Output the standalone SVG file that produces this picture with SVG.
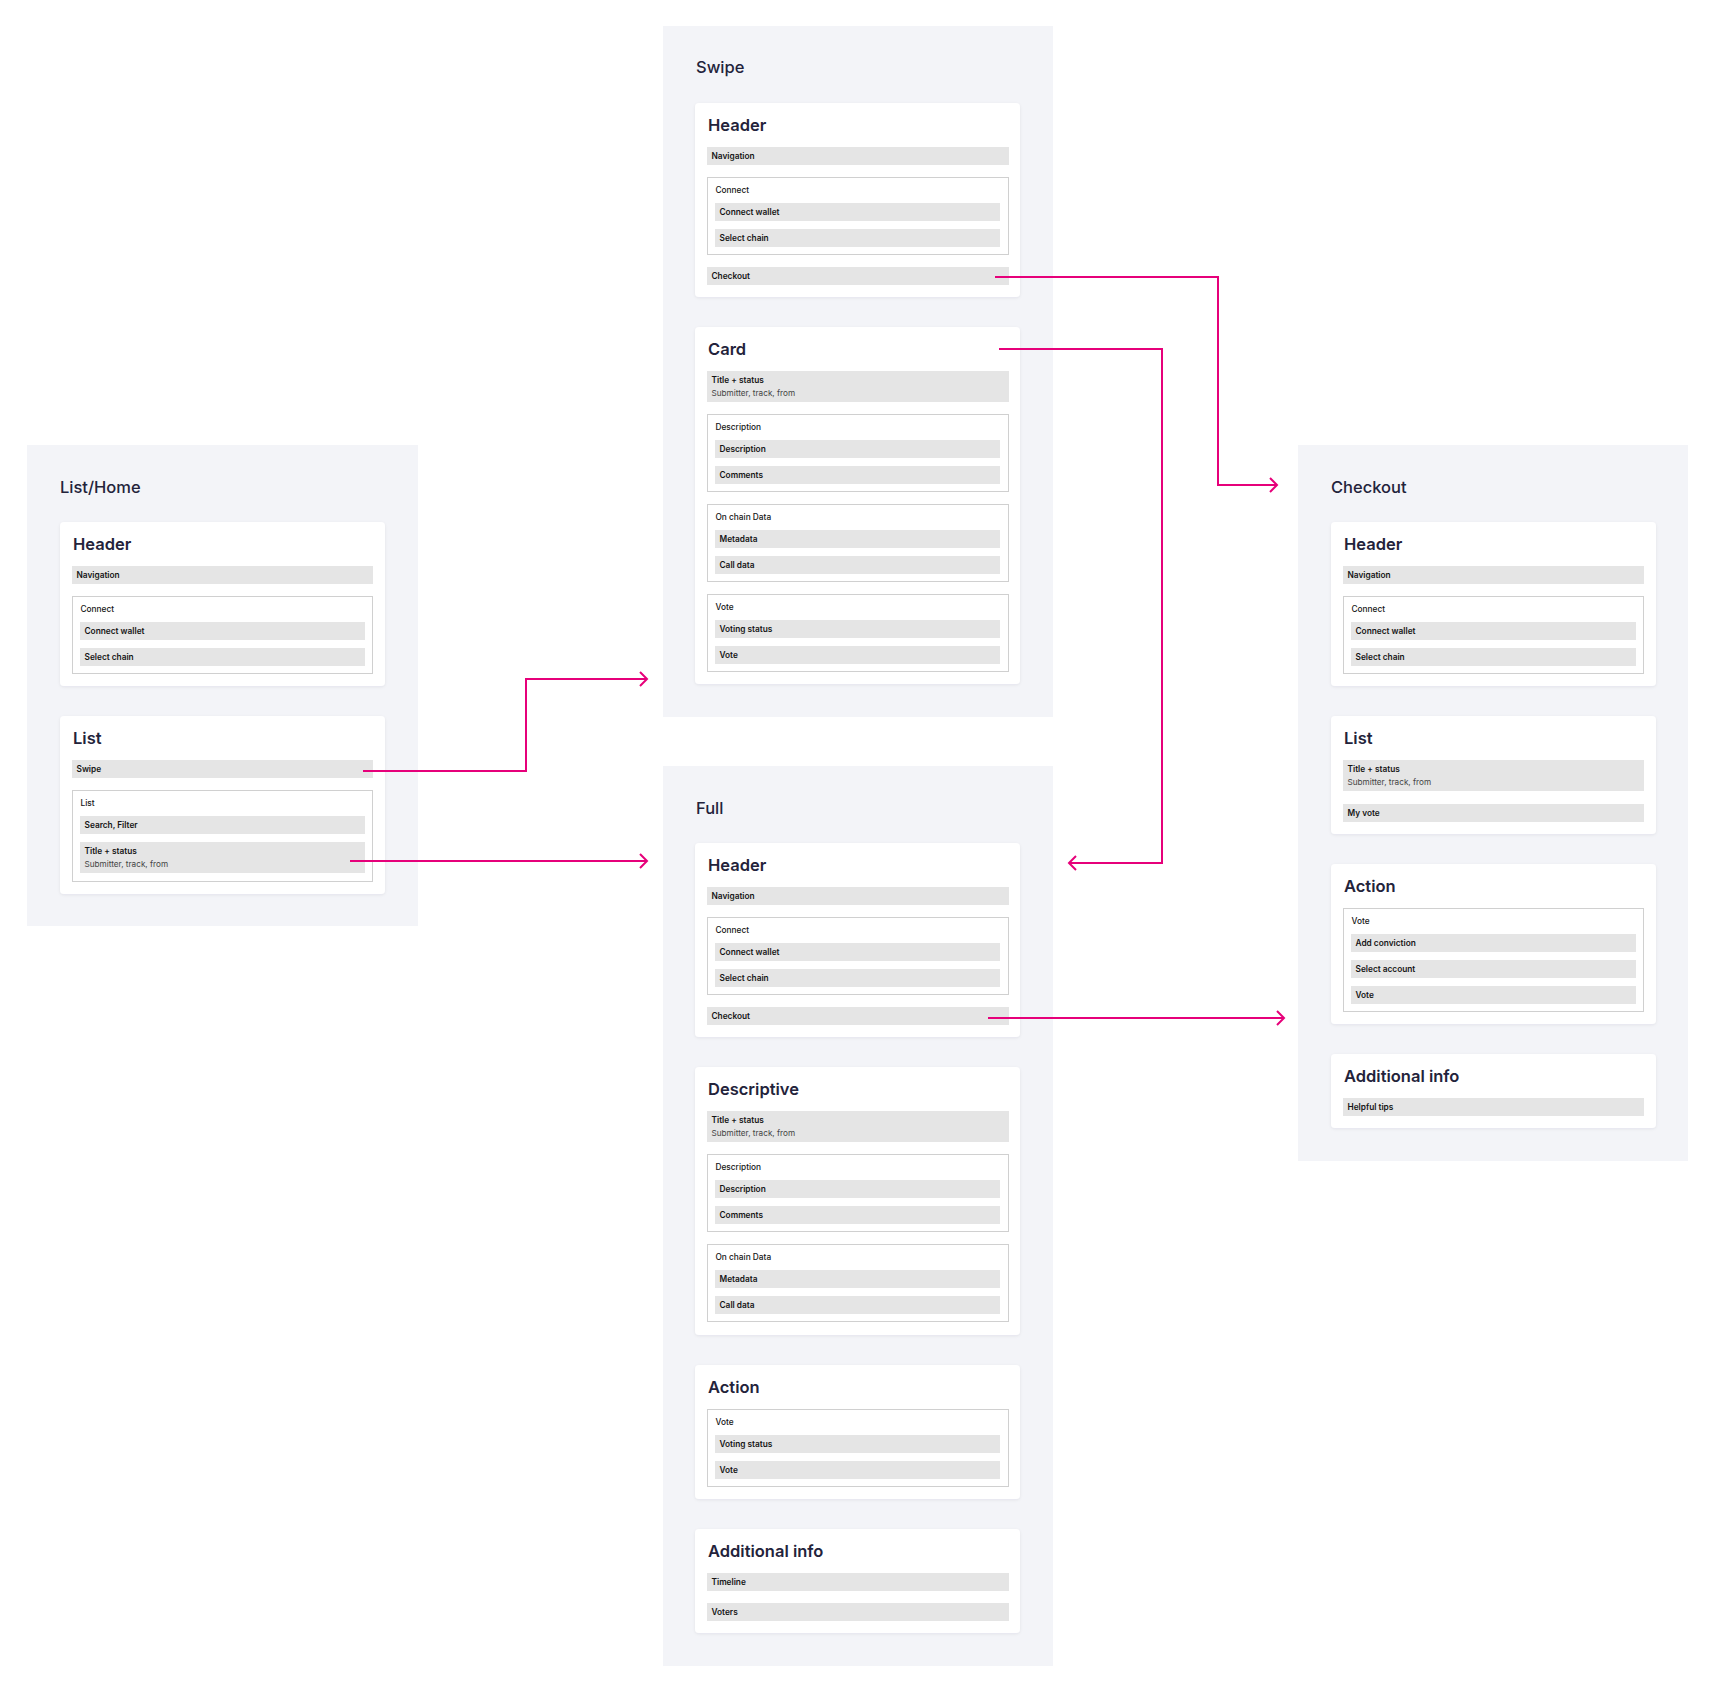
<svg xmlns="http://www.w3.org/2000/svg" width="1722" height="1691" viewBox="0 0 1722 1691">
<defs>
<filter id="sh" x="-5%" y="-5%" width="110%" height="115%">
<feDropShadow dx="0" dy="1" stdDeviation="1.5" flood-color="#1a1a40" flood-opacity="0.07"/>
</filter>
<marker id="arr" markerUnits="userSpaceOnUse" markerWidth="12" markerHeight="18" viewBox="0 0 12 18" refX="10" refY="9" orient="auto">
<path d="M3,2 L10,9 L3,16" fill="none" stroke="#E6007A" stroke-width="2"/>
</marker>
<style>
.panel{fill:#F3F4F8}
.card{fill:#FFFFFF;filter:url(#sh)}
.bar{fill:#E5E5E5}
.box{fill:none;stroke:#A0A0A0;stroke-width:1;stroke-dasharray:1 1}
.pt{font-family:Inter,"Liberation Sans",sans-serif;font-weight:500;font-size:16.5px;fill:#23233B}
.ct{font-family:Inter,"Liberation Sans",sans-serif;font-weight:600;font-size:16.5px;fill:#23233B}
.bt{font-family:Inter,"Liberation Sans",sans-serif;font-weight:600;font-size:8.3px;fill:#151515}
.bl{font-family:Inter,"Liberation Sans",sans-serif;font-weight:500;font-size:8.3px;fill:#151515}
.st{font-family:Inter,"Liberation Sans",sans-serif;font-weight:400;font-size:8.2px;fill:#444444}
.conn{fill:none;stroke:#E6007A;stroke-width:2;marker-end:url(#arr)}
</style>
</defs>
<rect width="1722" height="1691" fill="#FFFFFF"/>

<!-- Panels -->
<g id="panel-listhome">
<rect class="panel" x="27" y="445" width="391" height="481"/>
<text class="pt" x="60" y="493">List/Home</text>
</g>
<g id="panel-swipe">
<rect class="panel" x="663" y="26" width="390" height="691"/>
<text class="pt" x="696" y="73">Swipe</text>
</g>
<g id="panel-full">
<rect class="panel" x="663" y="766" width="390" height="900"/>
<text class="pt" x="696" y="814">Full</text>
</g>
<g id="panel-checkout">
<rect class="panel" x="1298" y="445" width="390" height="716"/>
<text class="pt" x="1331" y="493">Checkout</text>
</g>

<!-- List/Home cards -->
<g id="lh-header" transform="translate(60,522)">
<rect class="card" width="325" height="164" rx="4"/>
<text class="ct" x="13" y="28">Header</text>
<rect class="bar" x="12" y="44" width="301" height="18"/><text class="bt" x="16.5" y="56">Navigation</text>
<rect class="box" x="12.5" y="74.5" width="300" height="77"/><text class="bl" x="20.5" y="90">Connect</text>
<rect class="bar" x="20" y="100" width="285" height="18"/><text class="bt" x="24.5" y="112">Connect wallet</text>
<rect class="bar" x="20" y="126" width="285" height="18"/><text class="bt" x="24.5" y="138">Select chain</text>
</g>
<g id="lh-list" transform="translate(60,716)">
<rect class="card" width="325" height="178" rx="4"/>
<text class="ct" x="13" y="28">List</text>
<rect class="bar" x="12" y="44" width="301" height="18"/><text class="bt" x="16.5" y="56">Swipe</text>
<rect class="box" x="12.5" y="74.5" width="300" height="91"/><text class="bl" x="20.5" y="90">List</text>
<rect class="bar" x="20" y="100" width="285" height="18"/><text class="bt" x="24.5" y="112">Search, Filter</text>
<rect class="bar" x="20" y="126" width="285" height="31"/><text class="bt" x="24.5" y="137.5">Title + status</text><text class="st" x="24.5" y="150.5">Submitter, track, from</text>
</g>

<!-- Swipe cards -->
<g id="sw-header" transform="translate(695,103)">
<rect class="card" width="325" height="194" rx="4"/>
<text class="ct" x="13" y="28">Header</text>
<rect class="bar" x="12" y="44" width="302" height="18"/><text class="bt" x="16.5" y="56">Navigation</text>
<rect class="box" x="12.5" y="74.5" width="301" height="77"/><text class="bl" x="20.5" y="90">Connect</text>
<rect class="bar" x="20" y="100" width="285" height="18"/><text class="bt" x="24.5" y="112">Connect wallet</text>
<rect class="bar" x="20" y="126" width="285" height="18"/><text class="bt" x="24.5" y="138">Select chain</text>
<rect class="bar" x="12" y="164" width="302" height="18"/><text class="bt" x="16.5" y="176">Checkout</text>
</g>
<g id="sw-card" transform="translate(695,327)">
<rect class="card" width="325" height="357" rx="4"/>
<text class="ct" x="13" y="28">Card</text>
<rect class="bar" x="12" y="44" width="302" height="31"/><text class="bt" x="16.5" y="55.5">Title + status</text><text class="st" x="16.5" y="68.5">Submitter, track, from</text>
<rect class="box" x="12.5" y="87.5" width="301" height="77"/><text class="bl" x="20.5" y="103">Description</text>
<rect class="bar" x="20" y="113" width="285" height="18"/><text class="bt" x="24.5" y="125">Description</text>
<rect class="bar" x="20" y="139" width="285" height="18"/><text class="bt" x="24.5" y="151">Comments</text>
<rect class="box" x="12.5" y="177.5" width="301" height="77"/><text class="bl" x="20.5" y="193">On chain Data</text>
<rect class="bar" x="20" y="203" width="285" height="18"/><text class="bt" x="24.5" y="215">Metadata</text>
<rect class="bar" x="20" y="229" width="285" height="18"/><text class="bt" x="24.5" y="241">Call data</text>
<rect class="box" x="12.5" y="267.5" width="301" height="77"/><text class="bl" x="20.5" y="283">Vote</text>
<rect class="bar" x="20" y="293" width="285" height="18"/><text class="bt" x="24.5" y="305">Voting status</text>
<rect class="bar" x="20" y="319" width="285" height="18"/><text class="bt" x="24.5" y="331">Vote</text>
</g>

<!-- Full cards -->
<g id="fu-header" transform="translate(695,843)">
<rect class="card" width="325" height="194" rx="4"/>
<text class="ct" x="13" y="28">Header</text>
<rect class="bar" x="12" y="44" width="302" height="18"/><text class="bt" x="16.5" y="56">Navigation</text>
<rect class="box" x="12.5" y="74.5" width="301" height="77"/><text class="bl" x="20.5" y="90">Connect</text>
<rect class="bar" x="20" y="100" width="285" height="18"/><text class="bt" x="24.5" y="112">Connect wallet</text>
<rect class="bar" x="20" y="126" width="285" height="18"/><text class="bt" x="24.5" y="138">Select chain</text>
<rect class="bar" x="12" y="164" width="302" height="18"/><text class="bt" x="16.5" y="176">Checkout</text>
</g>
<g id="fu-descriptive" transform="translate(695,1067)">
<rect class="card" width="325" height="268" rx="4"/>
<text class="ct" x="13" y="28">Descriptive</text>
<rect class="bar" x="12" y="44" width="302" height="31"/><text class="bt" x="16.5" y="55.5">Title + status</text><text class="st" x="16.5" y="68.5">Submitter, track, from</text>
<rect class="box" x="12.5" y="87.5" width="301" height="77"/><text class="bl" x="20.5" y="103">Description</text>
<rect class="bar" x="20" y="113" width="285" height="18"/><text class="bt" x="24.5" y="125">Description</text>
<rect class="bar" x="20" y="139" width="285" height="18"/><text class="bt" x="24.5" y="151">Comments</text>
<rect class="box" x="12.5" y="177.5" width="301" height="77"/><text class="bl" x="20.5" y="193">On chain Data</text>
<rect class="bar" x="20" y="203" width="285" height="18"/><text class="bt" x="24.5" y="215">Metadata</text>
<rect class="bar" x="20" y="229" width="285" height="18"/><text class="bt" x="24.5" y="241">Call data</text>
</g>
<g id="fu-action" transform="translate(695,1365)">
<rect class="card" width="325" height="134" rx="4"/>
<text class="ct" x="13" y="28">Action</text>
<rect class="box" x="12.5" y="44.5" width="301" height="77"/><text class="bl" x="20.5" y="60">Vote</text>
<rect class="bar" x="20" y="70" width="285" height="18"/><text class="bt" x="24.5" y="82">Voting status</text>
<rect class="bar" x="20" y="96" width="285" height="18"/><text class="bt" x="24.5" y="108">Vote</text>
</g>
<g id="fu-additional" transform="translate(695,1529)">
<rect class="card" width="325" height="104" rx="4"/>
<text class="ct" x="13" y="28">Additional info</text>
<rect class="bar" x="12" y="44" width="302" height="18"/><text class="bt" x="16.5" y="56">Timeline</text>
<rect class="bar" x="12" y="74" width="302" height="18"/><text class="bt" x="16.5" y="86">Voters</text>
</g>

<!-- Checkout cards -->
<g id="co-header" transform="translate(1331,522)">
<rect class="card" width="325" height="164" rx="4"/>
<text class="ct" x="13" y="28">Header</text>
<rect class="bar" x="12" y="44" width="301" height="18"/><text class="bt" x="16.5" y="56">Navigation</text>
<rect class="box" x="12.5" y="74.5" width="300" height="77"/><text class="bl" x="20.5" y="90">Connect</text>
<rect class="bar" x="20" y="100" width="285" height="18"/><text class="bt" x="24.5" y="112">Connect wallet</text>
<rect class="bar" x="20" y="126" width="285" height="18"/><text class="bt" x="24.5" y="138">Select chain</text>
</g>
<g id="co-list" transform="translate(1331,716)">
<rect class="card" width="325" height="118" rx="4"/>
<text class="ct" x="13" y="28">List</text>
<rect class="bar" x="12" y="44" width="301" height="31"/><text class="bt" x="16.5" y="55.5">Title + status</text><text class="st" x="16.5" y="68.5">Submitter, track, from</text>
<rect class="bar" x="12" y="88" width="301" height="18"/><text class="bt" x="16.5" y="100">My vote</text>
</g>
<g id="co-action" transform="translate(1331,864)">
<rect class="card" width="325" height="160" rx="4"/>
<text class="ct" x="13" y="28">Action</text>
<rect class="box" x="12.5" y="44.5" width="300" height="103"/><text class="bl" x="20.5" y="60">Vote</text>
<rect class="bar" x="20" y="70" width="285" height="18"/><text class="bt" x="24.5" y="82">Add conviction</text>
<rect class="bar" x="20" y="96" width="285" height="18"/><text class="bt" x="24.5" y="108">Select account</text>
<rect class="bar" x="20" y="122" width="285" height="18"/><text class="bt" x="24.5" y="134">Vote</text>
</g>
<g id="co-additional" transform="translate(1331,1054)">
<rect class="card" width="325" height="74" rx="4"/>
<text class="ct" x="13" y="28">Additional info</text>
<rect class="bar" x="12" y="44" width="301" height="18"/><text class="bt" x="16.5" y="56">Helpful tips</text>
</g>

<!-- Connectors -->
<g id="connectors">
<path class="conn" d="M995,277 H1218 V485 H1277"/>
<path class="conn" d="M999,349 H1162 V863 H1069"/>
<path class="conn" d="M363,771 H526 V679 H647"/>
<path class="conn" d="M350,861 H647"/>
<path class="conn" d="M988,1018 H1284"/>
</g>
</svg>
